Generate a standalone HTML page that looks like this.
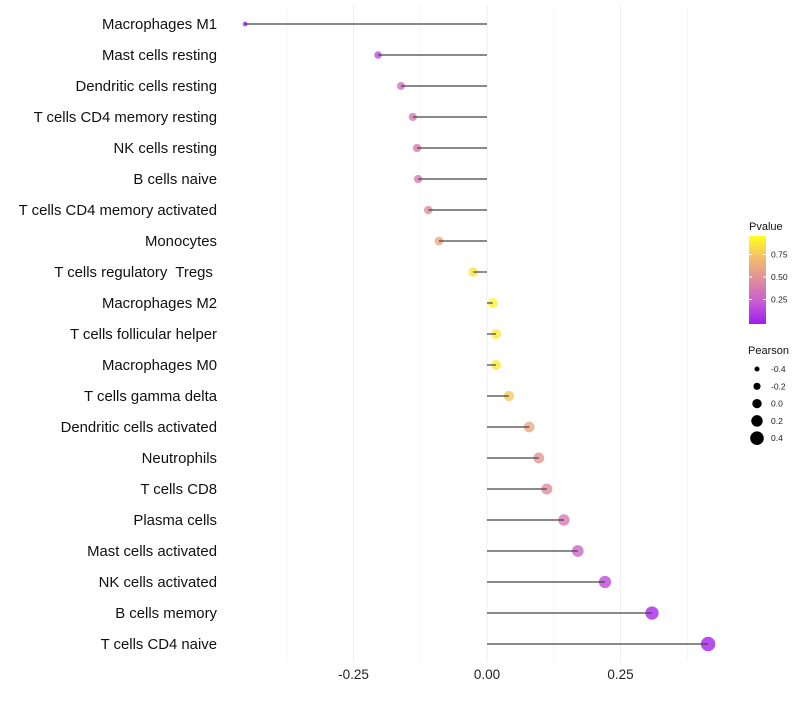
<!DOCTYPE html>
<html><head><meta charset="utf-8"><style>
body{margin:0;background:#fff;font-family:"Liberation Sans",sans-serif}
text{white-space:pre}
</style></head><body>
<svg id="c" width="800" height="700" xmlns="http://www.w3.org/2000/svg">
<defs><linearGradient id="pg" x1="0" y1="1" x2="0" y2="0">
<stop offset="0" stop-color="#a21cf0"/><stop offset="0.25" stop-color="#c85cd2"/><stop offset="0.5" stop-color="#e08c9e"/><stop offset="0.75" stop-color="#f3bd6c"/><stop offset="1" stop-color="#ffff20"/></linearGradient></defs>
</svg>
<script>
const cells=["Macrophages M1","Mast cells resting","Dendritic cells resting","T cells CD4 memory resting","NK cells resting","B cells naive","T cells CD4 memory activated","Monocytes","T cells regulatory  Tregs ","Macrophages M2","T cells follicular helper","Macrophages M0","T cells gamma delta","Dendritic cells activated","Neutrophils","T cells CD8","Plasma cells","Mast cells activated","NK cells activated","B cells memory","T cells CD4 naive"];
const pearson=[-0.453,-0.204,-0.161,-0.139,-0.131,-0.129,-0.110,-0.090,-0.026,0.011,0.017,0.017,0.041,0.079,0.097,0.112,0.144,0.170,0.221,0.309,0.414];
const pvalue=[0.02,0.2,0.35,0.4,0.42,0.42,0.5,0.65,0.9,0.95,0.92,0.92,0.8,0.65,0.55,0.5,0.4,0.3,0.18,0.05,0.02];
const xTicks=[-0.25,0,0.25];
const xTickLabels=["-0.25","0.00","0.25"];
const minorTicks=[-0.375,-0.125,0.125,0.375];
const sizeBreaks=[-0.4,-0.2,0.0,0.2,0.4];
const colorBreaks=[0.25,0.5,0.75];
const NS="http://www.w3.org/2000/svg",svg=document.getElementById('c');
const x=v=>487+v*534, y=i=>24+i*31, r=v=>4.9+v*5.6;
const stops=[[0,[162,28,240]],[0.25,[200,92,210]],[0.5,[224,140,158]],[0.75,[243,189,108]],[1,[255,255,32]]];
function col(p){for(let k=1;k<stops.length;k++){if(p<=stops[k][0]){const a=stops[k-1],b=stops[k],t=(p-a[0])/(b[0]-a[0]);return 'rgb('+a[1].map((c,j)=>Math.round(c+(b[1][j]-c)*t)).join(',')+')';}}return 'rgb(255,255,32)';}
function el(t,a,p){const e=document.createElementNS(NS,t);for(const k in a)e.setAttribute(k,a[k]);(p||svg).appendChild(e);return e;}
minorTicks.forEach(v=>{const e=el('line',{x1:x(v),x2:x(v),y1:5,y2:662,stroke:'#f5f5f5','stroke-width':1});

});
xTicks.forEach((v,i)=>{const e=el('line',{x1:x(v),x2:x(v),y1:5,y2:662,stroke:'#eeeeee','stroke-width':1});


const t=el('text',{x:x(v),y:679,'text-anchor':'middle','font-size':13.5,fill:'#222'});t.textContent=xTickLabels[i];

});
cells.forEach((c,i)=>{const t=el('text',{x:217,y:y(i)+5,'text-anchor':'end','font-size':14.9,fill:'#111'});t.textContent=c;


const p=el('circle',{cx:x(pearson[i]),cy:y(i),r:r(pearson[i]),fill:col(pvalue[i]),'fill-opacity':0.8});


const l=el('line',{x1:x(0),x2:x(pearson[i]),y1:y(i),y2:y(i),stroke:'#444','stroke-width':1.2});

});
let t=el('text',{x:749,y:230,'font-size':11,fill:'#111'});t.textContent='Pvalue';


const bar=el('rect',{x:749,y:236,width:17,height:88,fill:'url(#pg)'});


const cy=p=>322-p*90;
colorBreaks.forEach(b=>{el('line',{x1:749,x2:752,y1:cy(b),y2:cy(b),stroke:'#fff'});el('line',{x1:763,x2:766,y1:cy(b),y2:cy(b),stroke:'#fff'});
const tt=el('text',{x:771,y:cy(b)+3,'font-size':8.5,fill:'#222'});tt.textContent=b.toFixed(2);

});
t=el('text',{x:748,y:354,'font-size':11,fill:'#111'});t.textContent='Pearson';


sizeBreaks.forEach((b,i)=>{const yy=369+i*17.3;const c=el('circle',{cx:757,cy:yy,r:r(b)*0.95,fill:'#000'});


const tt=el('text',{x:771,y:yy+3,'font-size':8.5,fill:'#222'});tt.textContent=b.toFixed(1);

});
</script>
</body></html>
